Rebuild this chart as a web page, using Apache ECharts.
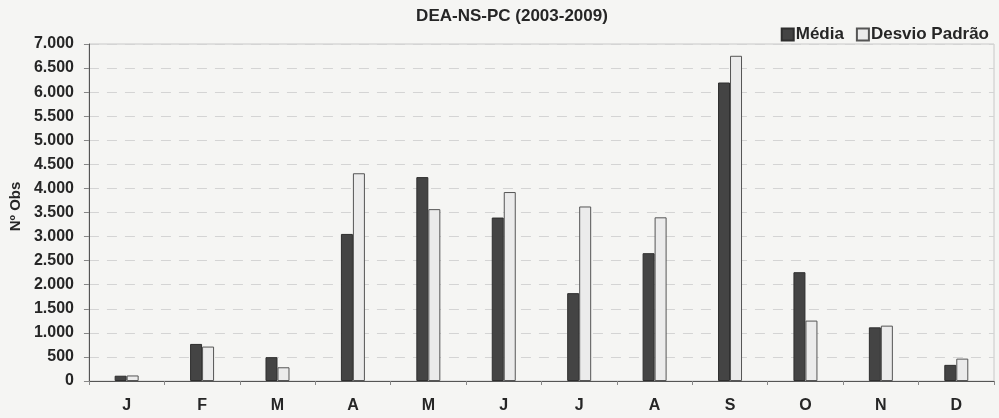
<!DOCTYPE html>
<html>
<head>
<meta charset="utf-8">
<script src="https://cdn.jsdelivr.net/npm/echarts@6/dist/echarts.min.js"></script>
<style>
  html, body { margin: 0; padding: 0; background: #f5f5f3; }
  #chart { width: 999px; height: 418px; }
</style>
</head>
<body>
<div id="chart"></div>
<script>
// Monthly observations, DEA-NS-PC station, 2003-2009
const months = ['J', 'F', 'M', 'A', 'M', 'J', 'J', 'A', 'S', 'O', 'N', 'D'];
const media = [110, 770, 495, 3055, 4235, 3395, 1825, 2655, 6200, 2260, 1115, 335];
const desvioPadrao = [115, 715, 285, 4315, 3570, 3925, 3625, 3400, 6755, 1255, 1150, 465];
const yTicks = { min: 0, max: 7000, step: 500 };

const font = 'Liberation Sans, Arial, sans-serif';
const ink = '#262626';

function thousands(v) {
  return String(v).replace(/\B(?=(\d{3})+(?!\d))/g, '.');
}

const chart = echarts.init(document.getElementById('chart'), null, { renderer: 'canvas' });

chart.setOption({
  backgroundColor: '#f5f5f3',
  animation: false,
  title: {
    text: 'DEA-NS-PC (2003-2009)',
    left: 507,
    textAlign: 'center',
    top: 3,
    textStyle: { fontFamily: font, fontWeight: 'bold', fontSize: 17, color: ink }
  },
  legend: {
    right: 5,
    top: 21,
    itemWidth: 12,
    itemHeight: 12,
    itemGap: 12,
    textStyle: { fontFamily: font, fontWeight: 'bold', fontSize: 17, color: ink, padding: [0, 0, 0, -3] },
    data: [
      { name: 'Média', icon: 'rect' },
      { name: 'Desvio Padrão', icon: 'rect' }
    ]
  },
  grid: {
    left: 87,
    right: 5,
    top: 44,
    bottom: 37,
    show: true,
    borderColor: '#c8c8c8',
    borderWidth: 1,
    backgroundColor: 'transparent'
  },
  xAxis: {
    type: 'category',
    data: months,
    axisLine: { lineStyle: { color: '#555', width: 1 } },
    axisTick: { show: true, alignWithLabel: false, length: 4, lineStyle: { color: '#888' } },
    axisLabel: { fontFamily: font, fontWeight: 'bold', fontSize: 16, color: ink, margin: 17 }
  },
  yAxis: {
    type: 'value',
    min: yTicks.min,
    max: yTicks.max,
    interval: yTicks.step,
    name: 'Nº Obs',
    nameLocation: 'middle',
    nameGap: 64,
    nameTextStyle: {
      fontFamily: font, fontWeight: 'bold', fontSize: 15, color: ink,
      padding: [0, 0, 0, 12]
    },
    axisLine: { show: true, lineStyle: { color: '#555', width: 1 } },
    axisTick: { show: true, length: 5, lineStyle: { color: '#888' } },
    axisLabel: {
      fontFamily: font, fontWeight: 'bold', fontSize: 16, color: ink, margin: 15,
      formatter: thousands
    },
    splitLine: { show: true, lineStyle: { color: '#d4d4d4', type: [10, 8], width: 1 } }
  },
  series: [
    {
      name: 'Média',
      type: 'bar',
      data: media,
      barWidth: 12,
      barGap: '0%',
      itemStyle: { color: '#444444', borderColor: '#2e2e2e', borderWidth: 1 }
    },
    {
      name: 'Desvio Padrão',
      type: 'bar',
      data: desvioPadrao,
      barWidth: 12,
      itemStyle: { color: '#ebebeb', borderColor: '#555', borderWidth: 1 }
    }
  ]
});
</script>
</body>
</html>
